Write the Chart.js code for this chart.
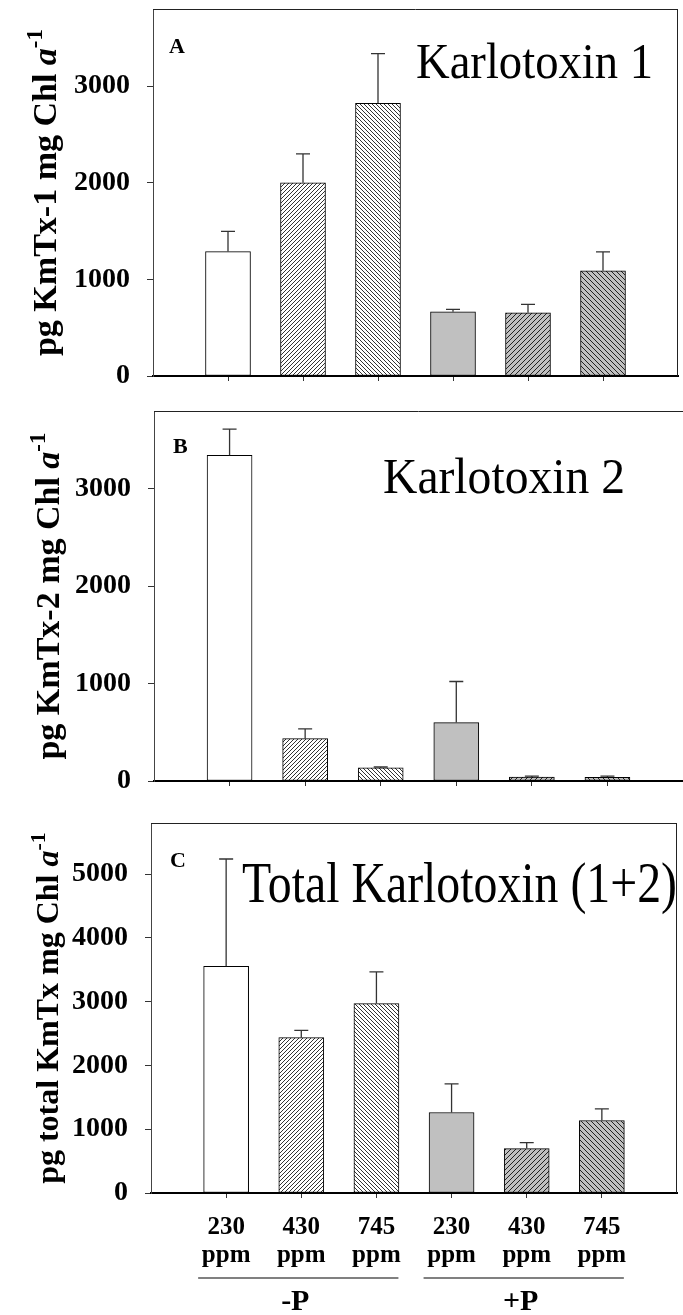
<!DOCTYPE html>
<html>
<head>
<meta charset="utf-8">
<script src="https://cdn.jsdelivr.net/npm/chart.js@4.4.1/dist/chart.umd.min.js"></script>
<style>
  body { margin: 0; background: #fff; }
  #wrap { position: relative; width: 683px; height: 1315px; }
  canvas { position: absolute; left: 0; }
</style>
</head>
<body>
<div id="wrap">
  <canvas id="chartA" width="683" height="405" style="top:0px"></canvas>
  <canvas id="chartB" width="683" height="400" style="top:405px"></canvas>
  <canvas id="chartC" width="683" height="510" style="top:805px"></canvas>
</div>
<script>
// CO2 treatments along the x axis
const doses = ["230", "430", "745", "230", "430", "745"];
const unit = "ppm";
const groups = [
  { label: "-P", first: 0, last: 2 },
  { label: "+P", first: 3, last: 5 },
];

// means and upper error (pg per mg Chl a)
const kmtx1 = [1288, 2000, 2824, 665, 655, 1090];
const kmtx1Err = [210, 300, 514, 25, 86, 196];
const kmtx2 = [3346, 435, 134, 600, 41, 38];
const kmtx2Err = [267, 100, 10, 422, 10, 13];
const kmtxTotal = [3555, 2435, 2969, 1262, 696, 1136];
const kmtxTotalErr = [1681, 115, 497, 450, 95, 183];

// y tick labels
const ticksAB = [0, 1000, 2000, 3000];
const ticksC = [0, 1000, 2000, 3000, 4000, 5000];

const SERIF = "'Liberation Serif', 'Times New Roman', serif";

// hatch fills
function hatch(ctx, bg, dir, size, lineColor) {
  const c = document.createElement("canvas");
  c.width = c.height = size;
  const g = c.getContext("2d");
  g.fillStyle = bg;
  g.fillRect(0, 0, size, size);
  if (dir) {
    g.strokeStyle = lineColor;
    g.lineWidth = 1;
    g.beginPath();
    if (dir === "/") {
      g.moveTo(0, size); g.lineTo(size, 0);
      g.moveTo(-1, 1); g.lineTo(1, -1);
      g.moveTo(size - 1, size + 1); g.lineTo(size + 1, size - 1);
    } else {
      g.moveTo(0, 0); g.lineTo(size, size);
      g.moveTo(-1, size - 1); g.lineTo(1, size + 1);
      g.moveTo(size - 1, -1); g.lineTo(size + 1, 1);
    }
    g.stroke();
  }
  return ctx.createPattern(c, "repeat");
}

function barFills(ctx) {
  return [
    "#fff",
    "#fff",
    hatch(ctx, "#fff", "/", 4, "#333"),
    hatch(ctx, "#fff", "\\", 4, "#333"),
    "#c0c0c0",
    hatch(ctx, "#c0c0c0", "/", 5, "#222"),
    hatch(ctx, "#c0c0c0", "\\", 5, "#222"),
    "#fff",
  ];
}

// error bars (upper only)
const errorBars = {
  id: "errorBars",
  afterDatasetsDraw(chart, args, opts) {
    const ctx = chart.ctx;
    const y = chart.scales.y;
    const data = chart.data.datasets[0].data;
    ctx.save();
    ctx.strokeStyle = "#333";
    ctx.lineWidth = 1.3;
    chart.getDatasetMeta(0).data.forEach((bar, i) => {
      const v = data[i];
      const e = opts.errors[i];
      if (v == null || e == null) return;
      const top = y.getPixelForValue(v + e);
      ctx.beginPath();
      ctx.moveTo(bar.x, bar.y);
      ctx.lineTo(bar.x, top);
      ctx.moveTo(bar.x - 7, top);
      ctx.lineTo(bar.x + 7, top);
      ctx.stroke();
    });
    ctx.restore();
  },
};

// top / right frame lines
const frame = {
  id: "frame",
  afterDraw(chart, args, opts) {
    const { ctx, chartArea: a } = chart;
    ctx.save();
    ctx.strokeStyle = "#222";
    ctx.lineWidth = 1;
    ctx.beginPath();
    ctx.moveTo(a.left, a.top + 0.5);
    ctx.lineTo(opts.open ? chart.width : a.right, a.top + 0.5);
    if (!opts.open) {
      ctx.moveTo(a.right - 0.5, a.top);
      ctx.lineTo(a.right - 0.5, a.bottom);
    }
    ctx.stroke();
    ctx.restore();
  },
};

function drawParts(ctx, parts, x, y) {
  let cx = x;
  parts.forEach(p => {
    ctx.font = p.font;
    ctx.fillText(p.text, cx, y + (p.dy || 0));
    cx += ctx.measureText(p.text).width;
  });
}
function partsWidth(ctx, parts) {
  return parts.reduce((w, p) => { ctx.font = p.font; return w + ctx.measureText(p.text).width; }, 0);
}

// panel letter, big title, y axis title, group labels
const panelText = {
  id: "panelText",
  afterDraw(chart, args, o) {
    const { ctx, chartArea: a } = chart;
    ctx.save();
    ctx.fillStyle = "#000";
    ctx.textBaseline = "alphabetic";
    ctx.textAlign = "left";

    ctx.font = "bold 22px " + SERIF;
    ctx.fillText(o.letter, o.letterX, o.letterY);

    ctx.font = o.titleSize + "px " + SERIF;
    const tw = ctx.measureText(o.title).width;
    ctx.save();
    ctx.translate(o.titleX, o.titleY);
    ctx.scale(o.titleW / tw, 1);
    ctx.fillText(o.title, 0, 0);
    ctx.restore();

    const s = o.ySize;
    const parts = [
      { text: o.yText, font: "bold " + s + "px " + SERIF },
      { text: "a", font: "italic bold " + s + "px " + SERIF },
      { text: "-1", font: "bold " + Math.round(s * 0.68) + "px " + SERIF, dy: -Math.round(s * 0.42) },
    ];
    const w = partsWidth(ctx, parts);
    ctx.save();
    ctx.translate(o.yTitleX, (a.top + a.bottom) / 2);
    ctx.rotate(-Math.PI / 2);
    drawParts(ctx, parts, -w / 2, 0);
    ctx.restore();

    if (o.groups) {
      const x = chart.scales.x;
      o.groups.forEach(g => {
        const x0 = x.getPixelForValue(g.first + 1) - 28;
        const x1 = x.getPixelForValue(g.last + 1) + 22;
        ctx.strokeStyle = "#808080";
        ctx.lineWidth = 2;
        ctx.beginPath();
        ctx.moveTo(x0, o.groupLineY);
        ctx.lineTo(x1, o.groupLineY);
        ctx.stroke();
        ctx.font = "bold 30px " + SERIF;
        ctx.textAlign = "center";
        ctx.fillText(g.label, (x0 + x1) / 2 - 3, o.groupLabelY);
      });
    }
    ctx.restore();
  },
};

function makeChart(id, values, errors, yMax, yTicks, lay, text, showLabels) {
  const canvas = document.getElementById(id);
  const ctx = canvas.getContext("2d");
  const slots = ["", ...doses.map(d => [d, unit]), ""];
  return new Chart(ctx, {
    type: "bar",
    data: {
      labels: slots,
      datasets: [{
        data: [null, ...values, null],
        backgroundColor: barFills(ctx),
        borderColor: "#000",
        borderWidth: 1,
        borderSkipped: false,
        barThickness: 45,
      }],
    },
    options: {
      responsive: false,
      animation: false,
      layout: { padding: { top: lay.top, right: lay.right, left: 0, bottom: 0 } },
      plugins: {
        legend: { display: false },
        tooltip: { enabled: false },
        errorBars: { errors: [null, ...errors, null] },
        frame: { open: lay.open },
        panelText: text,
      },
      scales: {
        x: {
          type: "category",
          offset: false,
          grid: {
            offset: false,
            drawOnChartArea: false,
            drawTicks: true,
            tickLength: 5,
            tickColor: c => (c.index === 0 || c.index === slots.length - 1 ? "rgba(0,0,0,0)" : "#333"),
          },
          border: { color: "#000", width: 2 },
          ticks: {
            display: showLabels,
            autoSkip: false,
            maxRotation: 0,
            padding: 16,
            color: "#000",
            font: { family: SERIF, size: 25, weight: "bold", lineHeight: 1.12 },
          },
          afterFit: s => {
            s.height = lay.xHeight;
            s.paddingLeft = s.paddingRight = 0;
          },
        },
        y: {
          min: 0,
          max: yMax,
          grid: { drawOnChartArea: false, tickLength: 6, tickColor: "#333" },
          border: { color: "#444", width: 1 },
          ticks: {
            padding: 17,
            color: "#000",
            font: { family: SERIF, size: 28, weight: "bold" },
            callback: v => String(v),
          },
          afterBuildTicks: s => { s.ticks = yTicks.map(v => ({ value: v })); },
          afterFit: s => {
            s.width = lay.yWidth;
            s.paddingTop = s.paddingBottom = 0;
          },
        },
      },
    },
    plugins: [errorBars, frame, panelText],
  });
}

makeChart("chartA", kmtx1, kmtx1Err, 3800, ticksAB,
  { top: 9, right: 5, xHeight: 29, yWidth: 153, open: false },
  { letter: "A", letterX: 169, letterY: 53, title: "Karlotoxin 1", titleX: 416, titleY: 78, titleW: 237, titleSize: 50,
    yText: "pg KmTx-1 mg Chl ", ySize: 34, yTitleX: 56 },
  false);

makeChart("chartB", kmtx2, kmtx2Err, 3800, ticksAB,
  { top: 6, right: 0, xHeight: 24, yWidth: 154, open: true },
  { letter: "B", letterX: 173, letterY: 48, title: "Karlotoxin 2", titleX: 383, titleY: 88, titleW: 242, titleSize: 50,
    yText: "pg KmTx-2 mg Chl ", ySize: 34, yTitleX: 59 },
  false);

makeChart("chartC", kmtxTotal, kmtxTotalErr, 5800, ticksC,
  { top: 18, right: 6, xHeight: 122, yWidth: 151, open: false },
  { letter: "C", letterX: 170, letterY: 62, title: "Total Karlotoxin (1+2)", titleX: 242, titleY: 97, titleW: 435, titleSize: 56,
    yText: "pg total KmTx mg Chl ", ySize: 32, yTitleX: 58,
    groups: groups, groupLineY: 473, groupLabelY: 505 },
  true);
</script>
</body>
</html>
